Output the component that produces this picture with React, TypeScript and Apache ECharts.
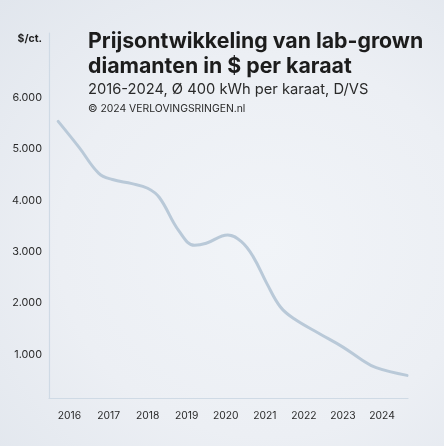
import React, { useEffect, useRef } from "react";
import * as echarts from "echarts";

const years = [2016, 2017, 2018, 2019, 2020, 2021, 2022, 2023, 2024];
const yTicks = [1000, 2000, 3000, 4000, 5000, 6000];
const pointYears = [2015.71, 2016.25, 2016.75, 2017.1, 2017.6, 2018.0, 2018.3, 2018.8, 2019.2, 2019.5, 2020.05, 2020.4, 2020.7, 2021.05, 2021.4, 2021.75, 2022.4, 2023.0, 2023.45, 2023.85, 2024.64];
const prices = [5530, 5020, 4520, 4400, 4320, 4230, 4050, 3400, 3120, 3160, 3320, 3190, 2900, 2380, 1920, 1690, 1400, 1140, 910, 740, 590];

const title = ["Prijsontwikkeling van lab-grown", "diamanten in $ per karaat"];
const subtitle = "2016-2024, Ø 400 kWh per karaat, D/VS";
const credit = "© 2024 VERLOVINGSRINGEN.nl";
const unit = "$/ct.";

export default function App() {
  const ref = useRef<HTMLDivElement>(null);
  useEffect(() => {
    if (!ref.current) return;
    const chart = echarts.init(ref.current, undefined, { renderer: "svg" });
    const font = "Inter, 'Noto Sans', sans-serif";
    chart.setOption({
      animation: false,
      backgroundColor: "transparent",
      grid: { left: 49, right: 36, top: 33, bottom: 48, containLabel: false },
      title: [
        {
          text: title.join("\n"),
          left: 88,
          top: 27,
          textStyle: { fontFamily: font, fontWeight: 700, fontSize: 21.3, lineHeight: 25, color: "#1c1c1c" },
          padding: 0,
        },
        {
          text: subtitle,
          left: 88,
          top: 81,
          textStyle: { fontFamily: font, fontWeight: 400, fontSize: 14.7, color: "#2a2a2a" },
          padding: 0,
        },
        {
          text: credit,
          left: 88,
          top: 103,
          textStyle: { fontFamily: font, fontWeight: 400, fontSize: 10.4, color: "#2a2a2a" },
          padding: 0,
        },
        {
          text: unit,
          right: 444 - 42,
          top: 33,
          textStyle: { fontFamily: font, fontWeight: 700, fontSize: 10.5, color: "#1c1c1c" },
          padding: 0,
        },
      ],
      xAxis: {
        type: "value",
        min: 2015.475,
        max: 2024.665,
        axisLine: { show: true, lineStyle: { color: "#cfdae5", width: 1.2 } },
        axisTick: { show: false },
        splitLine: { show: false },
        axisLabel: {
          customValues: years,
          formatter: (v: number) => String(Math.round(v)),
          fontFamily: font,
          fontSize: 10.3,
          color: "#2a2a2a",
          margin: 12,
        },
      },
      yAxis: {
        type: "value",
        min: 150,
        max: 7250,
        axisLine: { show: true, lineStyle: { color: "#cfdae5", width: 1.2 } },
        axisTick: { show: false },
        splitLine: { show: false },
        axisLabel: {
          customValues: yTicks,
          formatter: (v: number) => v.toLocaleString("de-DE"),
          fontFamily: font,
          fontSize: 10.8,
          color: "#2a2a2a",
          margin: 7,
        },
      },
      series: [
        {
          type: "line",
          data: pointYears.map((x, i) => [x, prices[i]]),
          smooth: 0.4,
          showSymbol: false,
          lineStyle: { color: "#b9c9d8", width: 3, cap: "round" },
        },
      ],
    });
    return () => chart.dispose();
  }, []);
  return (
    <div
      style={{
        position: "fixed",
        left: 0,
        top: 0,
        width: 444,
        height: 446,
        background: "radial-gradient(ellipse at 60% 55%, #f1f4f8 0%, #eceff4 55%, #e1e6ed 100%)",
      }}
    >
      <div ref={ref} style={{ width: 444, height: 446 }} />
    </div>
  );
}
